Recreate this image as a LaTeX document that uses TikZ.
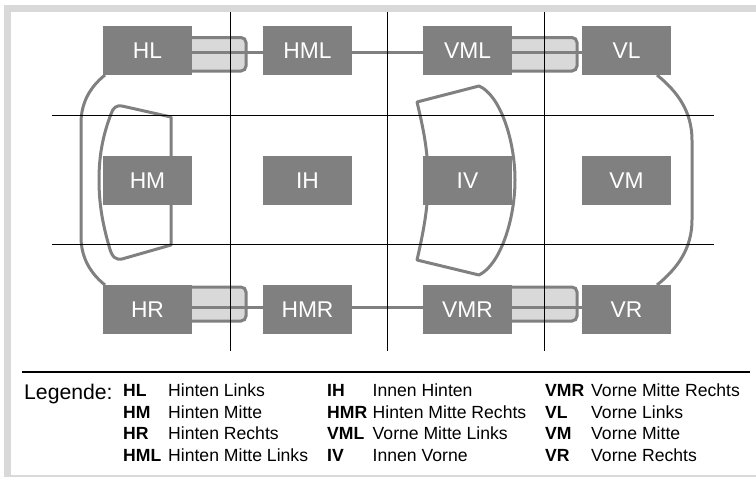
\documentclass[tikz,border=0pt]{standalone}
\usepackage{fontspec}
\setmainfont{Liberation Sans}
\definecolor{boxg}{HTML}{808080}
\definecolor{bandg}{HTML}{D9D9D9}
\newcommand{\lowered}[1]{\raisebox{-1.5pt}{#1}}
\tikzset{
  ecu/.style={draw=none,fill=boxg,text=white,minimum width=89pt,minimum height=49pt,inner sep=0pt,font=\fontsize{22.8}{23}\selectfont},
  bus/.style={draw=boxg,line width=3pt},
  pill/.style={draw=boxg,fill=bandg,line width=3pt,rounded corners=5pt},
  grid line/.style={draw=black,line width=1pt},
  lg/.style={anchor=base west,inner sep=0pt,font=\fontsize{17.6}{18}\selectfont},
  lgb/.style={lg,font=\fontsize{17.6}{18}\selectfont\bfseries}
}
\begin{document}
\begin{tikzpicture}[x=1pt,y=-1pt]
\useasboundingbox (0,0) rectangle (756,477);
\fill[white] (0,0) rectangle (756,477);
\fill[bandg] (4,5) rectangle (756,12);
\fill[bandg] (4,5) rectangle (11,477);
\fill[bandg] (4,475) rectangle (756,477);
% body and windows
\draw[bus,line join=round] (105,75) .. controls (90,87) and (81,103) .. (81,123) -- (81,237) .. controls (81,257) and (90,273) .. (105,285);
\draw[bus,line join=round] (657,75) .. controls (678,92) and (692,112) .. (692,140) -- (692,220) .. controls (692,248) and (678,268) .. (657,285);
\draw[bus,line join=round] (171,117) -- (122,106) .. controls (116,105) and (113,108) .. (111,114) .. controls (103,135) and (99,155) .. (99,180) .. controls (99,205) and (103,225) .. (109,246) .. controls (112,258) and (116,260) .. (122,259) -- (171,245) -- cycle;
\draw[bus,line join=round] (417,102) -- (479,86) .. controls (500,95) and (515,140) .. (515,180) .. controls (515,220) and (500,265) .. (479,275) -- (417,260) .. controls (425,225) and (428,205) .. (428,180) .. controls (428,155) and (425,135) .. (417,102) -- cycle;
% pills
\draw[pill] (180,37.5) rectangle (246,71);
\draw[pill] (500,37.5) rectangle (577,71);
\draw[pill] (180,287) rectangle (246,321);
\draw[pill] (500,287) rectangle (577,321);
% control units
\node[ecu] (HL) at (147.5,50.5) {\lowered{HL}};
\node[ecu] (HML) at (307.5,50.5) {\lowered{HML}};
\node[ecu] (VML) at (467.5,50.5) {\lowered{VML}};
\node[ecu] (VL) at (626.5,50.5) {\lowered{VL}};
\node[ecu] (HM) at (147.5,180.5) {HM};
\node[ecu] (IH) at (307.5,180.5) {IH};
\node[ecu] (IV) at (467.5,180.5) {IV};
\node[ecu] (VM) at (626.5,180.5) {VM};
\node[ecu] (HR) at (147.5,309.5) {HR};
\node[ecu] (HMR) at (307.5,309.5) {HMR};
\node[ecu] (VMR) at (467.5,309.5) {VMR};
\node[ecu] (VR) at (626.5,309.5) {VR};
% buses
\draw[bus] (HL.east |- 0,52) -- (HML.west |- 0,52);
\draw[bus] (HML.east |- 0,52) -- (VML.west |- 0,52);
\draw[bus] (VML.east |- 0,52) -- (VL.west |- 0,52);
\draw[bus] (HR.east |- 0,307) -- (HMR.west |- 0,307);
\draw[bus] (HMR.east |- 0,307) -- (VMR.west |- 0,307);
\draw[bus] (VMR.east |- 0,307) -- (VR.west |- 0,307);
% grid
\draw[grid line] (230,12) -- (230,351);
\draw[grid line] (387,12) -- (387,351);
\draw[grid line] (544,12) -- (544,351);
\draw[grid line] (52,115.5) -- (714,115.5);
\draw[grid line] (52,244.5) -- (714,244.5);
\draw[black,line width=1.3pt] (22,372) -- (750,372);
% legend
\node[lg,font=\fontsize{21.2}{21}\selectfont] (leg) at (24,399) {Legende:};
\foreach \nm/\bx/\tx/\by/\ab/\ds in {
 a/123/168/396/HL/Hinten Links, b/123/168/418/HM/Hinten Mitte, c/123/168/439/HR/Hinten Rechts, d/123/168/461/HML/Hinten Mitte Links,
 e/327/372.5/396/IH/Innen Hinten, f/327/372.5/418/HMR/Hinten Mitte Rechts, g/327/372.5/439/VML/Vorne Mitte Links, h/327/372.5/461/IV/Innen Vorne,
 i/545/591/396/VMR/Vorne Mitte Rechts, j/545/591/418/VL/Vorne Links, k/545/591/439/VM/Vorne Mitte, l/545/591/461/VR/Vorne Rechts}{
  \node[lgb] (k\nm) at (\bx,\by) {\ab};
  \node[lg] (t\nm) at (\tx,\by) {\ds};
}
\end{tikzpicture}
\end{document}
